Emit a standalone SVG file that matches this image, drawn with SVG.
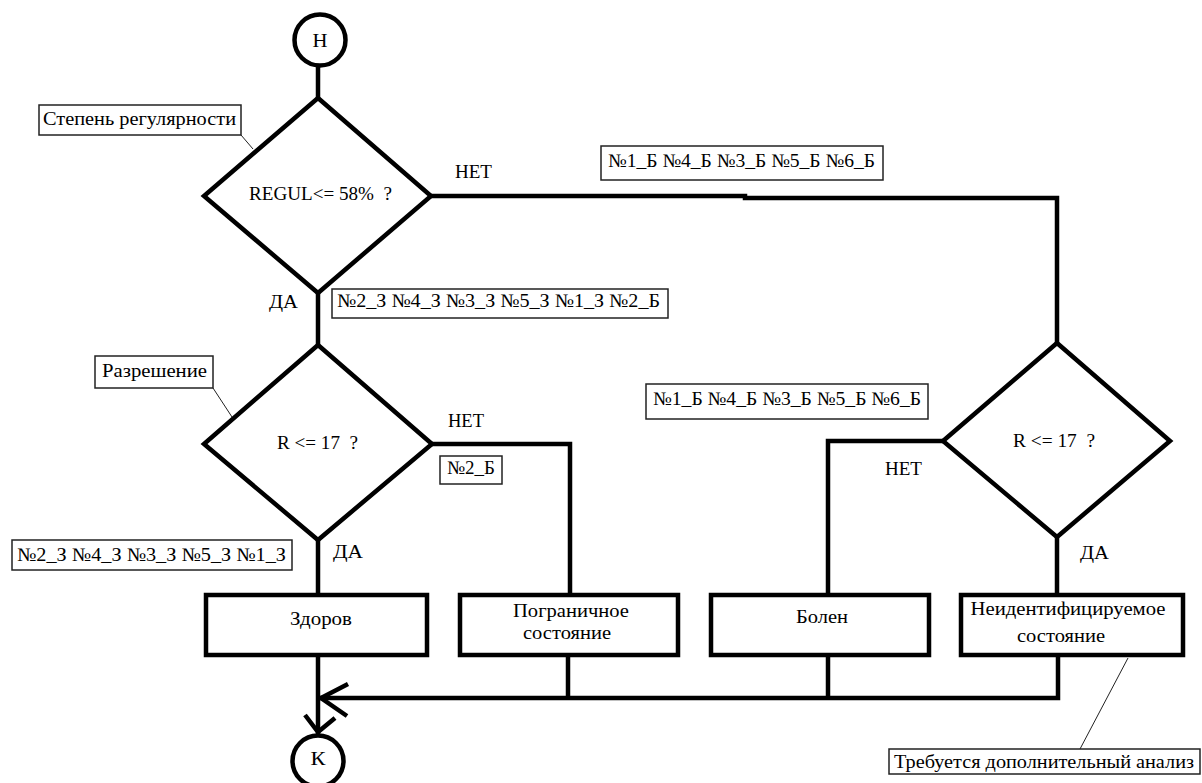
<svg xmlns="http://www.w3.org/2000/svg" width="1202" height="783" viewBox="0 0 1202 783">
<style>
  text { font-family: "Liberation Serif", "DejaVu Serif", serif; font-size: 19px; fill: #000; }
  .mid { text-anchor: middle; }
  .shape { fill: #fff; stroke: #000; stroke-width: 4.5; }
  .wire { fill: none; stroke: #000; stroke-width: 4.5; stroke-linejoin: miter; }
  .note { fill: #fff; stroke: #222; stroke-width: 1.5; }
  .lead { fill: none; stroke: #222; stroke-width: 1; }
</style>
<rect width="1202" height="783" fill="#fff"/>

<g id="connectors">
  <line class="wire" x1="318" y1="66" x2="318" y2="98"/>
  <path class="wire" d="M431,196 H745 V198 H1057 V343"/>
  <line class="wire" x1="318" y1="293" x2="318" y2="345"/>
  <path class="wire" d="M432,444 H570 V595"/>
  <line class="wire" x1="318" y1="540" x2="318" y2="595"/>
  <path class="wire" d="M943,441 H828 V595"/>
  <line class="wire" x1="1057" y1="537" x2="1057" y2="595"/>
  <line class="wire" x1="318" y1="655" x2="318" y2="734"/>
  <line class="wire" x1="568" y1="655" x2="568" y2="698"/>
  <line class="wire" x1="828" y1="655" x2="828" y2="698"/>
  <path class="wire" d="M1058,655 V698 H320"/>
  <path class="wire" d="M348,684 L321,698 L347,716"/>
  <path class="wire" d="M305,715 L318,732 L335,718"/>
</g>

<g id="start">
  <circle class="shape" cx="320" cy="40" r="25.5"/>
  <text class="mid" x="320" y="47" textLength="15" lengthAdjust="spacingAndGlyphs">Н</text>
</g>

<g id="note-regul">
  <rect class="note" x="39" y="105" width="202" height="30"/>
  <text x="43" y="125" textLength="193" lengthAdjust="spacingAndGlyphs">Степень регулярности</text>
  <line class="lead" x1="241" y1="135" x2="253" y2="149"/>
</g>

<g id="decision-regul">
  <polygon class="shape" points="318,98 431,196 318,293 204,196"/>
  <text x="249" y="200" xml:space="preserve" textLength="143" lengthAdjust="spacingAndGlyphs">REGUL&lt;= 58%  ?</text>
</g>

<g id="label-net1"><text x="455" y="178" textLength="37" lengthAdjust="spacingAndGlyphs">НЕТ</text></g>
<g id="label-da1"><text x="269" y="308" textLength="29" lengthAdjust="spacingAndGlyphs">ДА</text></g>

<g id="codes-top">
  <rect class="note" x="601" y="146" width="282" height="34"/>
  <text x="608" y="167" textLength="267" lengthAdjust="spacingAndGlyphs">№1_Б №4_Б №3_Б №5_Б №6_Б</text>
</g>

<g id="codes-da1">
  <rect class="note" x="332" y="289" width="336" height="29"/>
  <text x="337" y="307" textLength="323" lengthAdjust="spacingAndGlyphs">№2_З №4_З №3_З №5_З №1_З №2_Б</text>
</g>

<g id="note-res">
  <rect class="note" x="95" y="356" width="118" height="32"/>
  <text x="102" y="377" textLength="105" lengthAdjust="spacingAndGlyphs">Разрешение</text>
  <line class="lead" x1="213" y1="388" x2="232" y2="417"/>
</g>

<g id="decision-r1">
  <polygon class="shape" points="318,345 432,444 318,540 204,444"/>
  <text x="277" y="449" xml:space="preserve" textLength="81" lengthAdjust="spacingAndGlyphs">R &lt;= 17  ?</text>
</g>

<g id="label-net2"><text x="448" y="427" textLength="36" lengthAdjust="spacingAndGlyphs">НЕТ</text></g>
<g id="label-da2"><text x="333" y="558" textLength="30" lengthAdjust="spacingAndGlyphs">ДА</text></g>

<g id="codes-net2">
  <rect class="note" x="440" y="456" width="62" height="28"/>
  <text x="447" y="474" textLength="48" lengthAdjust="spacingAndGlyphs">№2_Б</text>
</g>

<g id="codes-da2">
  <rect class="note" x="12" y="540" width="280" height="30"/>
  <text x="17" y="561" textLength="269" lengthAdjust="spacingAndGlyphs">№2_З №4_З №3_З №5_З №1_З</text>
</g>

<g id="codes-mid">
  <rect class="note" x="646" y="384" width="282" height="35"/>
  <text x="653" y="405" textLength="268" lengthAdjust="spacingAndGlyphs">№1_Б №4_Б №3_Б №5_Б №6_Б</text>
</g>

<g id="decision-r2">
  <polygon class="shape" points="1057,343 1170,441 1057,537 943,441"/>
  <text x="1013" y="447" xml:space="preserve" textLength="82" lengthAdjust="spacingAndGlyphs">R &lt;= 17  ?</text>
</g>

<g id="label-net3"><text x="885" y="475" textLength="37" lengthAdjust="spacingAndGlyphs">НЕТ</text></g>
<g id="label-da3"><text x="1080" y="559" textLength="29" lengthAdjust="spacingAndGlyphs">ДА</text></g>

<g id="box-healthy">
  <rect class="shape" x="206" y="595" width="221" height="60"/>
  <text class="mid" x="321" y="625" textLength="62" lengthAdjust="spacingAndGlyphs">Здоров</text>
</g>

<g id="box-border">
  <rect class="shape" x="460" y="595" width="218" height="60"/>
  <text class="mid" x="571" y="617" textLength="116" lengthAdjust="spacingAndGlyphs">Пограничное</text>
  <text class="mid" x="567" y="639" textLength="88" lengthAdjust="spacingAndGlyphs">состояние</text>
</g>

<g id="box-ill">
  <rect class="shape" x="711" y="595" width="218" height="60"/>
  <text class="mid" x="822" y="623" textLength="52" lengthAdjust="spacingAndGlyphs">Болен</text>
</g>

<g id="box-unknown">
  <rect class="shape" x="961" y="595" width="222" height="60"/>
  <text class="mid" x="1068" y="615" textLength="195" lengthAdjust="spacingAndGlyphs">Неидентифицируемое</text>
  <text class="mid" x="1061" y="642" textLength="88" lengthAdjust="spacingAndGlyphs">состояние</text>
</g>

<g id="note-analysis">
  <line class="lead" x1="1128" y1="658" x2="1080" y2="749"/>
  <rect class="note" x="889" y="749" width="311" height="25"/>
  <text x="894" y="768" textLength="300" lengthAdjust="spacingAndGlyphs">Требуется дополнительный анализ</text>
</g>

<g id="end">
  <circle class="shape" cx="318" cy="761" r="25.5"/>
  <text class="mid" x="318" y="765" textLength="15" lengthAdjust="spacingAndGlyphs">К</text>
</g>
</svg>
